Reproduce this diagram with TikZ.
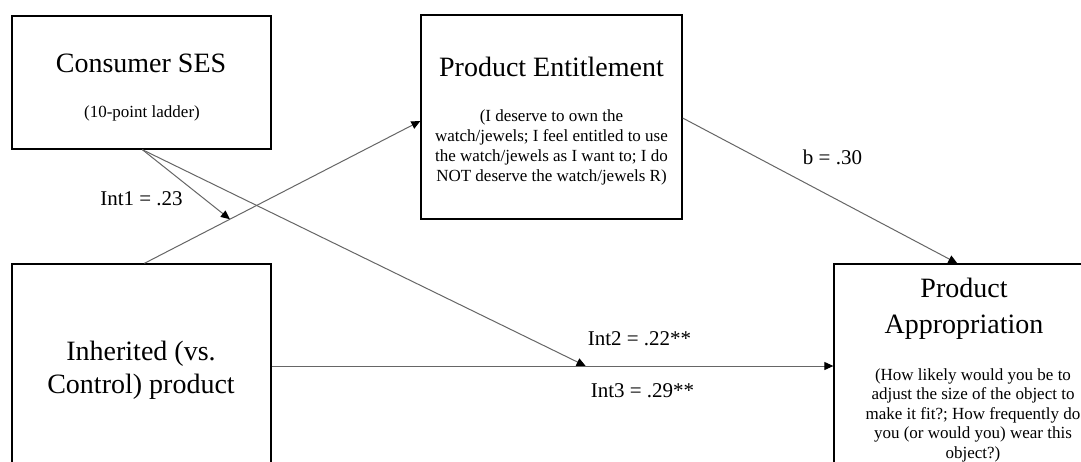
\documentclass[tikz,border=0pt]{standalone}
\usepackage{fontspec}
\setmainfont{Liberation Serif}
\usetikzlibrary{arrows.meta,calc}
\begin{document}
\begin{tikzpicture}[x=1pt,y=-1pt,
  box/.style={draw=black,line width=1.3pt,rectangle,inner sep=0pt},
  title/.style={anchor=base,align=center,font=\fontsize{28}{35}\selectfont,inner sep=0pt},
  sub/.style={anchor=base,align=center,font=\fontsize{17}{20}\selectfont,inner sep=0pt},
  lab/.style={anchor=base,font=\fontsize{21}{25}\selectfont,inner sep=0pt},
  conn/.style={draw=black!60,line width=1pt,-{Triangle[length=9pt,width=8pt,color=black]}}]
\useasboundingbox (0,0) rectangle (1081,461);
\clip (0,0) rectangle (1081,461);
\fill[white] (0,0) rectangle (1081,461);
% boxes
\node[box,minimum width=259pt,minimum height=133pt] (ses) at (141.5,82.5) {};
\node[box,minimum width=261pt,minimum height=204pt] (ent) at (551.5,117) {};
\node[box,minimum width=259pt,minimum height=300pt] (inh) at (141.5,414) {};
\node[box,minimum width=290pt,minimum height=300pt] (app) at (979,414) {};
% texts (base = baseline of the last line)
\node[title] (sesT) at (141,72) {Consumer SES};
\node[sub] (sesS) at (142,117) {(10-point ladder)};
\node[title] (entT) at (551.5,76) {Product Entitlement};
\node[sub] (entS) at (551.5,181) {(I deserve to own the\\watch/jewels; I feel entitled to use\\the watch/jewels as I want to; I do\\NOT deserve the watch/jewels R)};
\node[title] (inhT) at (141,393) {Inherited (vs.\\[-2pt]Control) product};
\node[title] (appT) at (964,333) {Product\\[1pt]Appropriation};
\node[sub,font=\fontsize{17}{19.6}\selectfont] (appS) at (973,458.5) {(How likely would you be to\\adjust the size of the object to\\make it fit?; How frequently do\\you (or would you) wear this\\object?)};
% connection points
\coordinate (inhTop) at ([xshift=133pt]inh.north west);
\coordinate (entW) at ([yshift=-4pt]ent.west);
\coordinate (entE) at ([yshift=-1pt]ent.east);
\coordinate (appN) at ([xshift=124pt]app.north west);
\coordinate (sesB) at ([xshift=131pt]ses.south west);
\coordinate (inhE) at ([yshift=48pt]inh.east);
\coordinate (appW) at (app.west |- inhE);
\coordinate (m1) at ($(inhTop)!0.31!(entW)$);
\coordinate (m2) at ($(inhE)!0.559!(appW)$);
% connectors
\draw[conn] (inhTop) -- (entW);
\draw[conn] (entE) -- (appN);
\draw[conn] (inhE) -- (appW);
\draw[conn] (sesB) -- (m1);
\draw[conn] (sesB) -- (m2);
% labels
\node[lab] (l1) at (141.5,205) {Int1 = .23};
\node[lab] (l2) at (832.5,164) {b = .30};
\node[lab] (l3) at (639.5,345) {Int2 = .22**};
\node[lab] (l4) at (642.5,397) {Int3 = .29**};
\end{tikzpicture}
\end{document}
